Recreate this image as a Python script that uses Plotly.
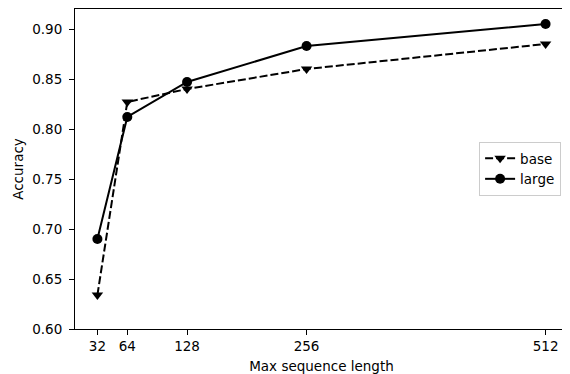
import plotly.graph_objects as go

seq_len = [32, 64, 128, 256, 512]
base_acc = [0.634, 0.827, 0.840, 0.860, 0.885]
large_acc = [0.690, 0.812, 0.847, 0.883, 0.905]
x_ticks = [32, 64, 128, 256, 512]
y_ticks = [0.60, 0.65, 0.70, 0.75, 0.80, 0.85, 0.90]

FONT = "DejaVu Sans"

fig = go.Figure()
fig.add_trace(go.Scatter(
    x=seq_len, y=base_acc, name="base", mode="lines+markers",
    line=dict(color="black", width=2, dash="8px,3px"),
    marker=dict(symbol="triangle-down", size=10, color="black"),
))
fig.add_trace(go.Scatter(
    x=seq_len, y=large_acc, name="large", mode="lines+markers",
    line=dict(color="black", width=2),
    marker=dict(symbol="circle", size=10, color="black"),
))

axis_common = dict(
    showgrid=False, zeroline=False, showline=True, linecolor="black", linewidth=1,
    mirror=True, ticks="outside", ticklen=5, tickwidth=1, tickcolor="black",
    tickfont=dict(family=FONT, size=13.5, color="black"), automargin=False,
)
fig.update_xaxes(range=[8, 536], tickvals=x_ticks, ticktext=[str(v) for v in x_ticks],
                 title=dict(text="Max sequence length", font=dict(family=FONT, size=13.5, color="black"), standoff=17),
                 **axis_common)
fig.update_yaxes(range=[0.60, 0.92], tickvals=y_ticks, ticktext=[f"{v:.2f}" for v in y_ticks],
                 ticklabelstandoff=4,
                 title=dict(text="Accuracy", font=dict(family=FONT, size=13.5, color="black"), standoff=5),
                 **axis_common)

# page body has an 8px default margin; compensate so the plot sits where the reference has it
fig.update_layout(
    width=562, height=366,
    margin=dict(l=67, r=2, t=1, b=45, autoexpand=False),
    plot_bgcolor="white", paper_bgcolor="white",
    font=dict(family=FONT, color="black"),
    legend=dict(x=0.986, y=0.5, xanchor="right", yanchor="middle",
                bordercolor="#cccccc", borderwidth=1, bgcolor="white",
                font=dict(family=FONT, size=13.5, color="black"),
                tracegroupgap=0, itemwidth=30),
    showlegend=True,
)

fig.write_html("out.html")
